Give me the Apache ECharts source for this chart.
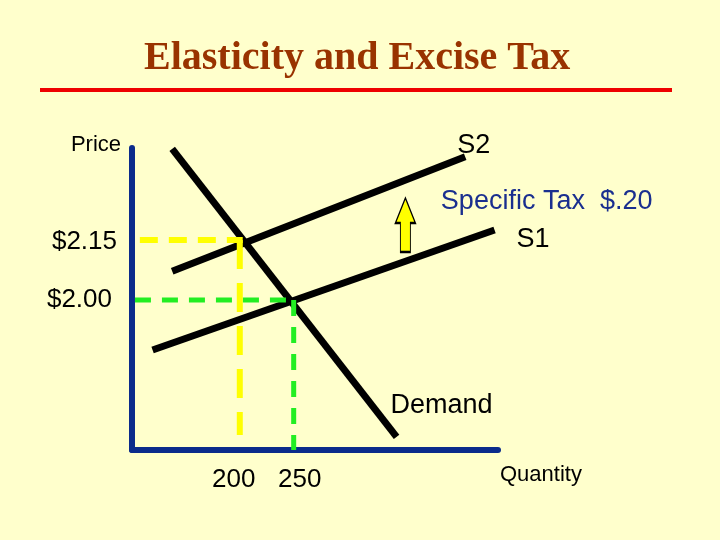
<!DOCTYPE html>
<html>
<head>
<meta charset="utf-8">
<script src="https://cdn.jsdelivr.net/npm/echarts@6/dist/echarts.min.js"></script>
<style>
html,body{margin:0;padding:0;background:#FFFFCC;}
#chart{width:720px;height:540px;}
</style>
</head>
<body>
<div id="chart"></div>
<script>
// ---- data ----
const quantityTicks = [200, 250];
const priceTicks = [2.00, 2.15];
const demandLine = [[127, 2.378], [356, 1.658]];
const supplyS1 = [[107, 1.875], [456, 2.175]];
const supplyS2 = [[127, 2.072], [426, 2.358]];
const taxArrow = [[365, 2.1875]];
const guideNewH = [[94, 2.15], [199, 2.15]];
const guideNewV = [[196, 2.15], [196, 1.6625]];
const guideOldH = [[89, 2.00], [251, 2.00]];
const guideOldV = [[251, 2.00], [251, 1.625]];

const FONT = "'Liberation Sans', Arial, sans-serif";
const AXIS_BLUE = '#0B2B8B';

const chart = echarts.init(document.getElementById('chart'));

function lineSeries(name, data, color, width, dash, z) {
  return {
    name: name, type: 'line', data: data, symbol: 'none', clip: false, z: z,
    silent: true,
    lineStyle: { color: color, width: width, type: dash || 'solid' }
  };
}

const option = {
  animation: false,
  backgroundColor: '#FFFFCC',
  title: {
    text: 'Elasticity and Excise Tax',
    left: 139,
    top: 34,
    textStyle: {
      fontFamily: "'Liberation Serif', 'Times New Roman', serif",
      fontWeight: 'bold', fontSize: 40, color: '#993300'
    }
  },
  graphic: [{
    type: 'rect', left: 40, top: 88,
    shape: { width: 632, height: 4 },
    style: { fill: '#EE0000' }
  }],
  grid: { left: 132, top: 148, width: 366, height: 302, containLabel: false },
  xAxis: {
    type: 'value', min: 86, max: 459.5,
    name: 'Quantity', nameLocation: 'end', nameGap: 2,
    nameTextStyle: { fontFamily: FONT, fontSize: 22, color: '#000', align: 'left', verticalAlign: 'top', lineHeight: 50 },
    axisLine: { onZero: false, lineStyle: { color: AXIS_BLUE, width: 6 } },
    axisTick: { show: false },
    splitLine: { show: false },
    axisLabel: {
      customValues: quantityTicks, margin: 17, color: '#000', fontFamily: FONT, fontSize: 26,
      formatter: function (v) { return (v === quantityTicks[0] ? '{l|' : '{r|') + v + '}'; },
      rich: {
        l: { fontFamily: FONT, fontSize: 26, color: '#000', padding: [0, 20, 0, 0] },
        r: { fontFamily: FONT, fontSize: 26, color: '#000', padding: [0, 0, 0, 14] }
      }
    }
  },
  yAxis: {
    type: 'value', min: 1.625, max: 2.38,
    name: 'Price', nameLocation: 'end', nameGap: 3,
    nameTextStyle: { fontFamily: FONT, fontSize: 22, color: '#000', align: 'right', verticalAlign: 'middle', padding: [0, 11, 0, 0] },
    axisLine: { onZero: false, lineStyle: { color: AXIS_BLUE, width: 6 } },
    axisTick: { show: false },
    splitLine: { show: false },
    axisLabel: {
      customValues: priceTicks, margin: 15, color: '#000', fontFamily: FONT, fontSize: 26,
      formatter: function (v) { return (v === priceTicks[0] ? '{o|' : '{n|') + '$' + v.toFixed(2) + '}'; },
      rich: {
        o: { fontFamily: FONT, fontSize: 26, color: '#000', padding: [0, 5, 0, 0] },
        n: { fontFamily: FONT, fontSize: 26, color: '#000', padding: [4, 0, 0, 0] }
      }
    }
  },
  series: [
    Object.assign(lineSeries('Demand', demandLine, '#000', 7, null, 3), {
      endLabel: { show: true, formatter: 'Demand', distance: 0, offset: [-6, -31], fontFamily: FONT, fontSize: 27, color: '#000' }
    }),
    Object.assign(lineSeries('S1', supplyS1, '#000', 7, null, 3), {
      endLabel: { show: true, formatter: 'S1', distance: 0, offset: [22, 10], fontFamily: FONT, fontSize: 27, color: '#000' }
    }),
    Object.assign(lineSeries('S2', supplyS2, '#000', 7, null, 3), {
      endLabel: { show: true, formatter: 'S2', distance: 0, offset: [-8, -11], fontFamily: FONT, fontSize: 27, color: '#000' }
    }),
    lineSeries('guideNewH', guideNewH, '#FFFF00', 6, [18, 11], 4),
    lineSeries('guideNewV', guideNewV, '#FFFF00', 6, [29, 14], 4),
    lineSeries('guideOldH', guideOldH, '#22EE22', 5, [16, 11], 5),
    lineSeries('guideOldV', guideOldV, '#22EE22', 5, [16, 11], 5),
    {
      name: 'tax', type: 'scatter', data: taxArrow, z: 6, silent: true,
      symbol: 'path://M10,0 L20,25 L15,25 L15,54 L5,54 L5,25 L0,25 Z',
      symbolSize: [20, 54],
      itemStyle: { color: '#FFFF00', borderColor: '#000', borderWidth: 1.5, opacity: 1 },
      label: {
        show: true, position: 'right', distance: 25, offset: [0, -23],
        formatter: 'Specific Tax  $.20', fontFamily: FONT, fontSize: 27, color: '#1A2F8F'
      }
    }
  ]
};
chart.setOption(option);
</script>
</body>
</html>
